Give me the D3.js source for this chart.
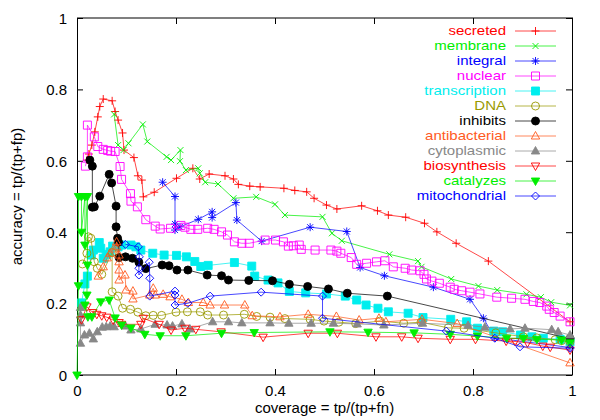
<!DOCTYPE html>
<html><head><meta charset="utf-8">
<script src="https://cdn.jsdelivr.net/npm/d3@7"></script>
<style>body{margin:0;background:#fff}svg{display:block}text{font-family:"Liberation Sans",Arial,sans-serif}</style>
</head><body><svg id="c" width="600" height="420"></svg>
<script>
const xTicks=[0,0.2,0.4,0.6,0.8,1];
const yTicks=[0,0.2,0.4,0.6,0.8,1];
const xTitle="coverage = tp/(tp+fn)";
const yTitle="accuracy = tp/(tp+fp)";
const seriesNames=["secreted","membrane","integral","nuclear","transcription","DNA","inhibits","antibacterial","cytoplasmic","biosynthesis","catalyzes","mitochondrial"];
const seriesColors=["#ff0000","#00ee00","#0000ff","#ff00ff","#00eeee","#999900","#000000","#ff5a1e","#888888","#ff0000","#00ee00","#0000ff"];
const seriesMarkers=["plus","cross","star","square","squareF","circle","circleF","tri","triF","triD","triDF","diamond"];

const secreted=[[0.020,0.602],[0.024,0.619],[0.030,0.644],[0.036,0.681],[0.042,0.723],[0.046,0.752],[0.053,0.773],[0.071,0.768],[0.077,0.738],[0.083,0.714],[0.092,0.678],[0.095,0.630],[0.115,0.609],[0.123,0.558],[0.131,0.546],[0.134,0.499],[0.156,0.512],[0.201,0.551],[0.234,0.579],[0.248,0.549],[0.267,0.563],[0.299,0.558],[0.316,0.549],[0.326,0.534],[0.349,0.529],[0.370,0.527],[0.418,0.523],[0.440,0.517],[0.464,0.513],[0.479,0.495],[0.504,0.476],[0.525,0.465],[0.575,0.474],[0.607,0.460],[0.629,0.448],[0.664,0.442],[0.702,0.425],[0.727,0.401],[0.766,0.369],[0.831,0.319],[0.996,0.149]];
const membrane=[[0.075,0.730],[0.083,0.644],[0.094,0.630],[0.104,0.649],[0.133,0.702],[0.142,0.654],[0.181,0.611],[0.190,0.602],[0.209,0.630],[0.208,0.599],[0.220,0.574],[0.245,0.579],[0.248,0.565],[0.259,0.540],[0.285,0.535],[0.316,0.495],[0.362,0.499],[0.400,0.478],[0.420,0.448],[0.496,0.443],[0.515,0.397],[0.535,0.376],[0.631,0.338],[0.689,0.319],[0.696,0.303],[0.756,0.269],[0.811,0.249],[0.849,0.238],[0.908,0.226],[0.937,0.218],[0.958,0.204],[0.996,0.195]];
const integral=[[0.173,0.540],[0.198,0.500],[0.198,0.423],[0.198,0.406],[0.208,0.415],[0.245,0.436],[0.273,0.457],[0.273,0.441],[0.321,0.483],[0.323,0.434],[0.373,0.375],[0.471,0.414],[0.545,0.402],[0.572,0.301],[0.621,0.278],[0.720,0.246],[0.794,0.212],[0.821,0.159],[0.844,0.104],[0.996,0.077]];
const nuclear=[[0.017,0.585],[0.021,0.611],[0.021,0.700],[0.035,0.667],[0.042,0.640],[0.053,0.632],[0.062,0.629],[0.068,0.627],[0.077,0.626],[0.087,0.584],[0.090,0.548],[0.108,0.508],[0.109,0.487],[0.122,0.471],[0.139,0.435],[0.158,0.417],[0.168,0.409],[0.189,0.411],[0.210,0.419],[0.218,0.414],[0.230,0.408],[0.244,0.408],[0.264,0.411],[0.277,0.408],[0.292,0.401],[0.304,0.392],[0.318,0.373],[0.333,0.369],[0.348,0.369],[0.380,0.378],[0.401,0.378],[0.417,0.373],[0.427,0.361],[0.437,0.362],[0.449,0.364],[0.453,0.352],[0.481,0.350],[0.513,0.350],[0.525,0.347],[0.533,0.341],[0.554,0.329],[0.565,0.310],[0.585,0.313],[0.605,0.317],[0.622,0.320],[0.639,0.303],[0.663,0.299],[0.676,0.294],[0.693,0.292],[0.701,0.282],[0.706,0.269],[0.717,0.263],[0.732,0.257],[0.754,0.246],[0.762,0.240],[0.777,0.236],[0.794,0.232],[0.814,0.227],[0.848,0.218],[0.878,0.215],[0.905,0.212],[0.922,0.206],[0.935,0.203],[0.949,0.193],[0.954,0.184],[0.964,0.175],[0.976,0.165],[0.996,0.149]];
const transcription=[[0.009,0.202],[0.016,0.255],[0.021,0.277],[0.029,0.336],[0.033,0.350],[0.045,0.371],[0.048,0.355],[0.053,0.327],[0.060,0.338],[0.067,0.345],[0.072,0.361],[0.083,0.359],[0.090,0.364],[0.109,0.364],[0.119,0.359],[0.129,0.350],[0.153,0.341],[0.176,0.336],[0.201,0.335],[0.221,0.331],[0.238,0.318],[0.250,0.304],[0.265,0.307],[0.318,0.315],[0.353,0.305],[0.359,0.277],[0.386,0.266],[0.406,0.258],[0.429,0.234],[0.462,0.230],[0.504,0.227],[0.542,0.221],[0.565,0.210],[0.584,0.196],[0.608,0.187],[0.629,0.177],[0.669,0.173],[0.699,0.161],[0.755,0.156],[0.787,0.149],[0.809,0.131],[0.842,0.123],[0.860,0.121],[0.896,0.112],[0.919,0.107],[0.942,0.103],[0.976,0.100],[0.996,0.093]];
const dna=[[0.011,0.311],[0.020,0.341],[0.023,0.387],[0.028,0.383],[0.035,0.317],[0.041,0.299],[0.050,0.282],[0.071,0.343],[0.071,0.233],[0.083,0.221],[0.092,0.187],[0.108,0.184],[0.123,0.176],[0.139,0.166],[0.154,0.167],[0.171,0.167],[0.200,0.176],[0.223,0.177],[0.249,0.177],[0.264,0.168],[0.296,0.168],[0.338,0.170],[0.363,0.164],[0.390,0.162],[0.420,0.158],[0.471,0.156],[0.499,0.151],[0.529,0.148],[0.563,0.144],[0.612,0.151],[0.660,0.145],[0.695,0.148],[0.750,0.132],[0.782,0.131],[0.846,0.118],[0.902,0.107],[0.929,0.104],[0.966,0.099],[0.979,0.096],[0.996,0.093]];
const inhibits=[[0.026,0.602],[0.031,0.585],[0.031,0.470],[0.035,0.471],[0.046,0.501],[0.065,0.562],[0.070,0.538],[0.079,0.473],[0.079,0.415],[0.082,0.383],[0.084,0.372],[0.085,0.329],[0.098,0.331],[0.112,0.327],[0.125,0.316],[0.139,0.298],[0.172,0.308],[0.186,0.306],[0.202,0.294],[0.224,0.294],[0.263,0.280],[0.292,0.278],[0.306,0.266],[0.347,0.265],[0.395,0.264],[0.429,0.254],[0.466,0.248],[0.508,0.241],[0.546,0.229],[0.627,0.221],[0.996,0.102]];
const antibacterial=[[0.043,0.277],[0.053,0.303],[0.061,0.328],[0.067,0.341],[0.074,0.353],[0.080,0.359],[0.080,0.373],[0.085,0.336],[0.085,0.317],[0.085,0.294],[0.085,0.266],[0.097,0.280],[0.099,0.238],[0.113,0.235],[0.113,0.213],[0.147,0.224],[0.154,0.243],[0.158,0.224],[0.174,0.226],[0.188,0.219],[0.212,0.212],[0.225,0.203],[0.255,0.203],[0.269,0.196],[0.298,0.196],[0.339,0.196],[0.354,0.166],[0.410,0.163],[0.467,0.170],[0.524,0.164],[0.570,0.154],[0.610,0.159],[0.624,0.149],[0.697,0.156],[0.768,0.144],[0.996,0.034]];
const cytoplasmic=[[0.007,0.189],[0.007,0.168],[0.007,0.146],[0.007,0.089],[0.015,0.112],[0.025,0.117],[0.033,0.101],[0.041,0.121],[0.051,0.134],[0.059,0.135],[0.067,0.137],[0.075,0.135],[0.098,0.137],[0.109,0.126],[0.129,0.129],[0.158,0.142],[0.182,0.140],[0.193,0.137],[0.212,0.143],[0.228,0.129],[0.274,0.149],[0.306,0.149],[0.333,0.146],[0.390,0.146],[0.428,0.145],[0.473,0.145],[0.518,0.145],[0.566,0.143],[0.620,0.140],[0.698,0.145],[0.790,0.139],[0.824,0.134],[0.875,0.129],[0.905,0.131],[0.959,0.127],[0.972,0.121],[0.996,0.112]];
const biosynthesis=[[0.009,0.155],[0.020,0.191],[0.032,0.175],[0.040,0.170],[0.050,0.166],[0.060,0.162],[0.073,0.154],[0.085,0.147],[0.090,0.142],[0.129,0.142],[0.134,0.159],[0.166,0.142],[0.190,0.126],[0.218,0.131],[0.240,0.128],[0.291,0.121],[0.376,0.106],[0.467,0.117],[0.526,0.117],[0.604,0.107],[0.656,0.107],[0.689,0.103],[0.754,0.100],[0.805,0.100],[0.867,0.095],[0.885,0.094],[0.910,0.090],[0.941,0.081],[0.956,0.078],[0.996,0.070]];
const catalyzes=[[0.000,0.000],[0.003,0.250],[0.003,0.500],[0.009,0.500],[0.009,0.400],[0.016,0.500],[0.016,0.364],[0.021,0.500],[0.021,0.308],[0.020,0.224],[0.016,0.196],[0.022,0.163],[0.030,0.163],[0.048,0.205],[0.065,0.210],[0.077,0.160],[0.090,0.140],[0.109,0.132],[0.137,0.114],[0.168,0.110],[0.220,0.110],[0.292,0.117],[0.358,0.119],[0.511,0.121],[0.588,0.120],[0.681,0.118],[0.754,0.114],[0.809,0.109],[0.868,0.103],[0.902,0.103],[0.929,0.100],[0.979,0.098],[0.996,0.090]];
const mitochondrial=[[0.098,0.366],[0.124,0.359],[0.126,0.331],[0.125,0.299],[0.125,0.280],[0.146,0.316],[0.147,0.271],[0.147,0.221],[0.198,0.235],[0.198,0.224],[0.198,0.196],[0.224,0.201],[0.269,0.221],[0.372,0.232],[0.496,0.221],[0.496,0.159],[0.746,0.123],[0.844,0.103],[0.895,0.079],[0.996,0.075]];
const seriesData=[secreted,membrane,integral,nuclear,transcription,dna,inhibits,antibacterial,cytoplasmic,biosynthesis,catalyzes,mitochondrial];

const FONT="'Liberation Sans',Arial,sans-serif";
const FS=15;
const svg=d3.select("#c");
const L=77,R=572,T=18,B=375;
const x=d3.scaleLinear().domain([0,1]).range([L,R]);
const y=d3.scaleLinear().domain([0,1]).range([B,T]);

function markerPath(type){
  switch(type){
    case "plus": return "M-4,0H4M0,-4V4";
    case "cross": return "M-3,-3L3,3M-3,3L3,-3";
    case "star": return "M-4,0H4M0,-4V4M-3,-3L3,3M-3,3L3,-3";
    case "square": case "squareF": return "M-4,-4H4V4H-4Z";
    case "circle": case "circleF": return "M4,0A4,4 0 1,1 -4,0A4,4 0 1,1 4,0Z";
    case "tri": case "triF": return "M0,-4.5L4.2,3L-4.2,3Z";
    case "triD": case "triDF": return "M0,4.5L4.2,-3L-4.2,-3Z";
    case "diamond": return "M0,-4L4,0L0,4L-4,0Z";
  }
}
function filled(t){return t.endsWith("F");}

const g=svg.append("g");
const axB=d3.axisBottom(x).tickValues(xTicks).tickSize(-6).tickFormat(d3.format("~g"));
const axT=d3.axisTop(x).tickValues(xTicks).tickSize(-6).tickFormat("");
const axL=d3.axisLeft(y).tickValues(yTicks).tickSize(-6).tickFormat(d3.format("~g"));
const axR=d3.axisRight(y).tickValues(yTicks).tickSize(-6).tickFormat("");
const axG=[[axB,`translate(0,${B})`],[axT,`translate(0,${T})`],[axL,`translate(${L},0)`],[axR,`translate(${R},0)`]].map(([a,tr])=>{
  const gg=g.append("g").attr("transform",tr).call(a);
  gg.select(".domain").remove();
  gg.selectAll("line").attr("stroke","#000");
  gg.selectAll("text").attr("font-size",FS).attr("fill","#000").style("font-family",FONT);
  return gg;
});
axG[0].selectAll("text").attr("dy","0").attr("y",21);
axG[2].selectAll("text").attr("x",-10).attr("dy","0.35em");
g.append("rect").attr("x",L+0.5).attr("y",T).attr("width",R-L).attr("height",B-T).attr("fill","none").attr("stroke","#000").attr("stroke-width",1);

svg.append("text").attr("x",(L+R)/2).attr("y",413).attr("text-anchor","middle").attr("font-size",FS).style("font-family",FONT).text(xTitle);
svg.append("text").attr("transform",`translate(22,${(T+B)/2}) rotate(-90)`).attr("text-anchor","middle").attr("font-size",FS).style("font-family",FONT).text(yTitle);

svg.append("clipPath").attr("id","pc").append("rect").attr("x",L-6).attr("y",T-6).attr("width",R-L+12).attr("height",B-T+12);
const plot=svg.append("g").attr("clip-path","url(#pc)");
const line=d3.line().x(d=>x(d[0])).y(d=>y(d[1]));

seriesData.forEach((data,i)=>{
  const col=seriesColors[i], mk=seriesMarkers[i];
  const sg=plot.append("g");
  sg.append("path").datum(data).attr("d",line).attr("fill","none").attr("stroke",col).attr("stroke-width",0.9).attr("stroke-opacity",0.8);
  sg.selectAll("path.m").data(data).enter().append("path").attr("class","m")
    .attr("transform",d=>`translate(${x(d[0])},${y(d[1])})`)
    .attr("d",markerPath(mk))
    .attr("fill",filled(mk)?col:"none").attr("stroke",col).attr("stroke-width",0.9);
});

// legend: texts sized to the reference width, with a compact height so rows don't collide
const lg=svg.append("g");
seriesNames.forEach((n,i)=>{
  const yy=31+15*i, col=seriesColors[i], mk=seriesMarkers[i];
  const t=lg.append("text").attr("x",506).attr("y",yy).attr("dy","0.35em").attr("text-anchor","end").attr("font-size",FS).style("font-family",FONT).attr("fill",col).text(n);
  const w=t.node().getComputedTextLength();
  t.attr("font-size",12.8).attr("textLength",w).attr("lengthAdjust","spacingAndGlyphs");
  lg.append("line").attr("x1",515).attr("x2",556).attr("y1",yy).attr("y2",yy).attr("stroke",col).attr("stroke-width",0.9).attr("stroke-opacity",0.8);
  lg.append("path").attr("transform",`translate(535.5,${yy})`).attr("d",markerPath(mk)).attr("fill",filled(mk)?col:"none").attr("stroke",col).attr("stroke-width",0.9);
});
</script></body></html>
